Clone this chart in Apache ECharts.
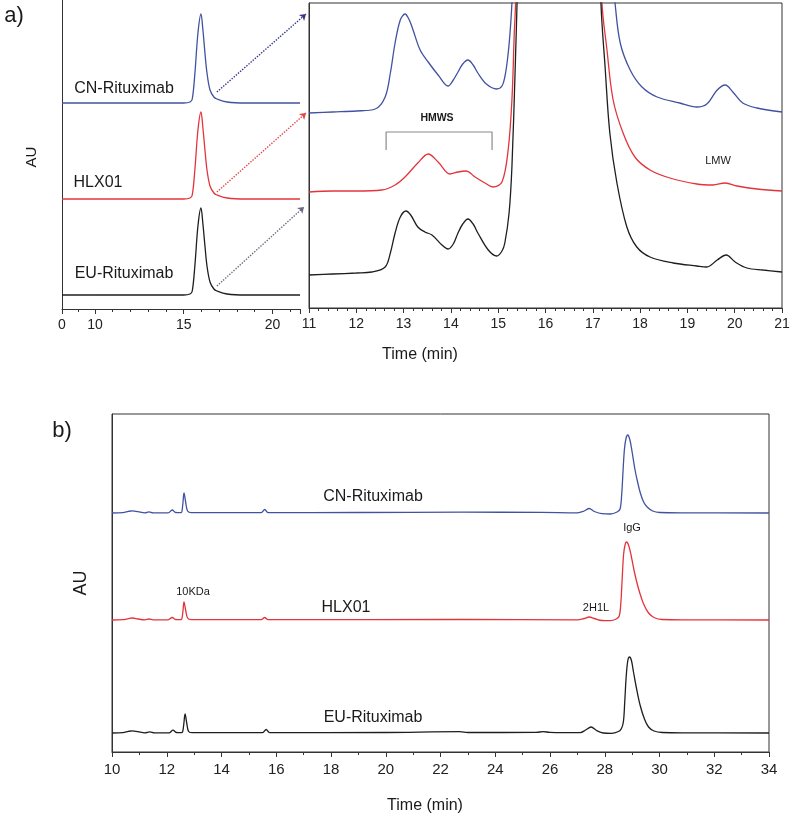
<!DOCTYPE html>
<html><head><meta charset="utf-8">
<script src="https://cdn.jsdelivr.net/npm/echarts@6/dist/echarts.min.js"></script>
<style>html,body{margin:0;padding:0;background:#fff}#c{width:800px;height:828px}</style>
</head><body><div id="c"></div>
<script>
// ---------- DATA ----------
// Panel a (left, overview) : time (min), AU (offset stacked)
const aPreBlue  = [[0,206],[10,206]];
const aPreRed   = [[0,110],[10,110]];
const aPreBlack = [[0,14],[10,14]];
const aLeftBlue = [[10,206],[12,206],[14,206],[15.0,206],[15.35,207],[15.48,210],[15.63,236],[15.80,276],[15.97,295],[16.08,279],[16.2,255],[16.31,236],[16.48,219],[16.7,212],[16.87,210],[17.44,207],[18.5,206],[21.55,206]];
const aLeftRed  = [[10,110],[12,110],[14,110],[15.0,110],[15.35,111],[15.48,114],[15.63,140],[15.80,179],[15.97,197],[16.08,181],[16.2,158],[16.31,139],[16.48,123],[16.7,116],[16.87,114],[17.44,111],[18.5,110],[21.55,110]];
const aLeftBlack= [[10,14],[12,14],[14,14],[15.0,14],[15.35,15],[15.48,18],[15.63,44],[15.80,83],[15.97,101],[16.08,85],[16.2,62],[16.31,43],[16.48,27],[16.7,20],[16.87,18],[17.44,15],[18.5,14],[21.55,14]];
// Panel a (right, zoom 11-21 min)
const aZoomBlue = [[11,195],[11.5,196],[12,197],[12.4,199],[12.61,211],[12.72,235],[12.82,265],[12.93,288],[13.03,294],[13.12,288],[13.20,278],[13.35,258],[13.52,246],[13.73,233],[13.94,222],[14.05,228],[14.15,236],[14.25,244],[14.36,248],[14.47,243],[14.57,235],[14.75,224],[14.97,219],[15.08,222],[15.14,231],[15.20,250],[15.25,275],[15.29,305],[15.33,360],[15.45,520],[16.2,900],[17.3,520],[17.43,330],[17.47,305],[17.58,265],[17.79,238],[18.04,221],[18.36,211],[18.84,205],[19.20,201],[19.41,204],[19.63,218],[19.80,223],[19.96,216],[20.17,205],[20.47,200],[21,196]];
const aZoomRed  = [[11,116],[11.5,117],[12,117],[12.54,118],[12.82,123],[13.03,131],[13.30,145],[13.52,154],[13.73,146],[13.98,134],[14.15,136],[14.32,137],[14.51,131],[14.72,125],[14.89,121],[15.08,126],[15.21,158],[15.29,208],[15.34,275],[15.37,308],[15.45,500],[16.2,900],[17.1,500],[17.19,308],[17.30,258],[17.43,208],[17.64,175],[17.89,151],[18.21,138],[18.63,130],[19.20,124],[19.54,123],[19.80,125],[20.05,122],[20.47,119],[21,117]];
const aZoomBlack= [[11,33],[11.5,34],[12,35],[12.33,36],[12.61,41],[12.72,55],[12.82,75],[12.93,91],[13.05,97],[13.15,93],[13.30,81],[13.45,76],[13.60,73],[13.81,63],[13.94,59],[14.05,64],[14.15,75],[14.25,84],[14.36,89],[14.47,84],[14.57,75],[14.79,58],[14.97,52],[15.08,57],[15.14,65],[15.23,95],[15.29,141],[15.36,241],[15.40,308],[15.5,500],[16.2,900],[17.1,500],[17.17,308],[17.26,241],[17.36,175],[17.51,125],[17.72,81],[17.93,61],[18.21,51],[18.70,45],[19.20,42],[19.41,41],[19.63,48],[19.82,53],[20.01,46],[20.26,40],[20.6,38],[21,36]];
// HMWS bracket (time, AU)
const hmwsBracket = [[12.63,158],[12.63,176],[14.87,176],[14.87,158]];
// Zoom arrows from overview peaks to zoom panel: [start, end]
const zoomArrows = [
  {name:'blue',  from:[16.87,217], to:[21.89,295]},
  {name:'red',   from:[16.87,117], to:[21.89,196]},
  {name:'black', from:[16.87,23],  to:[21.78,102]}
];
// Panel b (CE-SDS) : time (min), AU
const bBlue = [[10,239],[10.4,239.3],[10.6,240.6],[10.75,241.2],[10.95,240.3],[11.2,239.2],[11.35,240.2],[11.5,239.2],[12.05,239.2],[12.2,242],[12.32,239.5],[12.52,239.3],[12.58,246],[12.63,259],[12.69,250],[12.76,241],[12.9,239.3],[15.45,239.3],[15.58,242.5],[15.7,239.3],[19,239.5],[22.8,239.8],[25.7,239.6],[27.0,239.2],[27.25,241],[27.43,243.5],[27.62,240.5],[27.9,238.3],[28.2,238],[28.45,240],[28.56,243],[28.62,258],[28.67,282],[28.72,303],[28.78,314],[28.84,317],[28.92,312],[29.0,300],[29.1,283],[29.2,270],[29.3,259],[29.42,250],[29.55,245],[29.75,241],[30.0,239.5],[31,239.2],[34,239]];
const bRed  = [[10,132],[10.4,132.3],[10.6,133.4],[10.75,134],[10.95,133],[11.2,132.2],[11.35,133],[11.5,132.2],[12.05,132.2],[12.2,134.5],[12.32,132.5],[12.52,132.3],[12.58,138],[12.63,150],[12.69,142],[12.76,134],[12.9,132.3],[15.45,132.3],[15.58,134.5],[15.7,132.3],[22.8,132.5],[27.0,132.2],[27.25,133.5],[27.43,135],[27.62,133.5],[27.9,131.5],[28.2,131.3],[28.42,133],[28.53,136],[28.59,150],[28.64,175],[28.69,198],[28.75,208],[28.8,210],[28.88,206],[28.96,197],[29.06,183],[29.16,171],[29.28,159],[29.42,148],[29.6,139],[29.8,134.5],[30.1,132.5],[31,132.2],[34,132]];
const bBlack= [[10,19],[10.4,19.3],[10.6,20.6],[10.75,21.2],[10.95,20.3],[11.2,19.2],[11.38,20.2],[11.55,19.2],[12.08,19.2],[12.23,21.8],[12.35,19.5],[12.55,19.3],[12.61,25],[12.67,38],[12.73,29],[12.8,20.5],[12.95,19.3],[15.5,19.3],[15.63,22.5],[15.76,19.3],[20,19.5],[22.7,20.3],[23.0,19.5],[25.5,19.6],[25.75,20.4],[26.0,19.6],[27.1,19.3],[27.3,22],[27.5,25],[27.7,21.5],[27.95,19],[28.25,18.7],[28.5,20.5],[28.6,23],[28.68,30],[28.73,50],[28.78,74],[28.84,91],[28.9,95],[28.97,92],[29.05,80],[29.15,65],[29.29,47],[29.45,33],[29.6,25],[29.8,21],[30.1,19.5],[31,19.2],[34,19]];

// ---------- STYLE ----------
const FONT = '"Liberation Sans", Arial, Helvetica, sans-serif';
const COL = {blue:'#4252a0', red:'#e3343c', black:'#1e1e1e'};
const ARROWCOL = {blue:'#34348a', red:'#e04848', black:'#6a6a80'};
const AX = '#333';

function xAx(grid, min, max, interval, minorSplit, extra) {
  return Object.assign({
    type:'value', gridIndex:grid, min:min, max:max, interval:interval,
    axisLine:{show:true, onZero:false, lineStyle:{color:AX, width:1}},
    axisTick:{show:true, length:5, lineStyle:{color:AX}},
    minorTick:{show:true, splitNumber:minorSplit, length:3, lineStyle:{color:AX}},
    axisLabel:{color:'#222', fontSize:14, fontFamily:FONT, margin:9},
    splitLine:{show:false}
  }, extra||{});
}
function yAx(grid, max, showLine) {
  return {type:'value', gridIndex:grid, min:0, max:max, show:true,
    axisLine:{show:showLine, lineStyle:{color:AX, width:1}},
    axisTick:{show:false}, axisLabel:{show:false}, splitLine:{show:false}};
}
function ln(data, color, xi, yi) {
  return {type:'line', data:data, xAxisIndex:xi, yAxisIndex:yi, showSymbol:false, symbol:'none',
    smooth:0.35, silent:true, clip:true,
    lineStyle:{color:color, width:1.3}};
}
function txt(x, y, s, size, opt) {
  return Object.assign({type:'text', x:x, y:y, silent:true,
    style:{text:s, fill:'#1a1a1a', font:size+'px '+FONT, align:'center', verticalAlign:'middle'}}, opt||{});
}

const option = {
  animation:false,
  backgroundColor:'#fff',
  grid:[
    {left:62, top:0, width:33, height:309},
    {left:95, top:0, width:205, height:309},
    {left:309, top:3, width:473, height:305, show:true, borderColor:AX, borderWidth:1},
    {left:95, top:0, width:214, height:309},
    {left:112, top:414, width:657, height:338, show:true, borderColor:AX, borderWidth:1}
  ],
  xAxis:[
    xAx(0, 0, 10, 10, 2, {axisLabel:{color:'#222', fontSize:14, fontFamily:FONT, margin:9, formatter:v=> v===0?'0':''}}),
    xAx(1, 10, 21.55, 5, 5, {axisLabel:{color:'#222', fontSize:14, fontFamily:FONT, margin:9, formatter:v=> (v%5===0?String(v):'')}}),
    xAx(2, 11, 21, 1, 5),
    {type:'value', gridIndex:3, min:10, max:22.06, show:false},
    xAx(4, 10, 34, 2, 2, {axisLabel:{color:'#222', fontSize:15, fontFamily:FONT, margin:10}})
  ],
  yAxis:[
    yAx(0, 309, true),
    {type:'value', gridIndex:1, min:0, max:309, show:false},
    yAx(2, 305, true),
    {type:'value', gridIndex:3, min:0, max:309, show:false},
    yAx(4, 338, true)
  ],
  series:[
    ln(aPreBlue, COL.blue, 0, 0), ln(aPreRed, COL.red, 0, 0), ln(aPreBlack, COL.black, 0, 0),
    ln(aLeftBlue, COL.blue, 1, 1), ln(aLeftRed, COL.red, 1, 1), ln(aLeftBlack, COL.black, 1, 1),
    ln(aZoomBlue, COL.blue, 2, 2), ln(aZoomRed, COL.red, 2, 2), ln(aZoomBlack, COL.black, 2, 2),
    {type:'line', data:hmwsBracket, xAxisIndex:2, yAxisIndex:2, showSymbol:false, symbol:'none', smooth:false, silent:true,
      lineStyle:{color:'#8a8a8a', width:1.2}},
    {type:'lines', coordinateSystem:'cartesian2d', xAxisIndex:3, yAxisIndex:3, silent:true,
      symbol:['none','arrow'], symbolSize:6,
      data: zoomArrows.map(a=>({coords:[a.from, a.to], lineStyle:{color:ARROWCOL[a.name], type:'dotted', width:1.4, opacity:1}}))},
    ln(bBlue, COL.blue, 4, 4), ln(bRed, COL.red, 4, 4), ln(bBlack, COL.black, 4, 4)
  ],
  graphic:[
    txt(14, 16, 'a)', 22),
    txt(32, 157, 'AU', 15, {rotation:Math.PI/2}),
    txt(124, 89, 'CN-Rituximab', 16),
    txt(98, 183, 'HLX01', 16),
    txt(124, 274, 'EU-Rituximab', 16),
    txt(437, 118, 'HMWS', 10.5, {style:{text:'HMWS', fill:'#1a1a1a', font:'bold 10.5px '+FONT, align:'center', verticalAlign:'middle'}}),
    txt(718, 161, 'LMW', 11),
    txt(420, 355, 'Time (min)', 16),
    txt(62, 431, 'b)', 22),
    txt(81, 583, 'AU', 18, {rotation:Math.PI/2}),
    txt(373, 497, 'CN-Rituximab', 16),
    txt(346, 608, 'HLX01', 16),
    txt(373, 718, 'EU-Rituximab', 16),
    txt(193, 592, '10KDa', 11),
    txt(596, 608, '2H1L', 11),
    txt(632, 528, 'IgG', 11),
    txt(425, 806, 'Time (min)', 16)
  ]
};
const chart = echarts.init(document.getElementById('c'), null, {renderer:'canvas'});
chart.setOption(option);
</script></body></html>
